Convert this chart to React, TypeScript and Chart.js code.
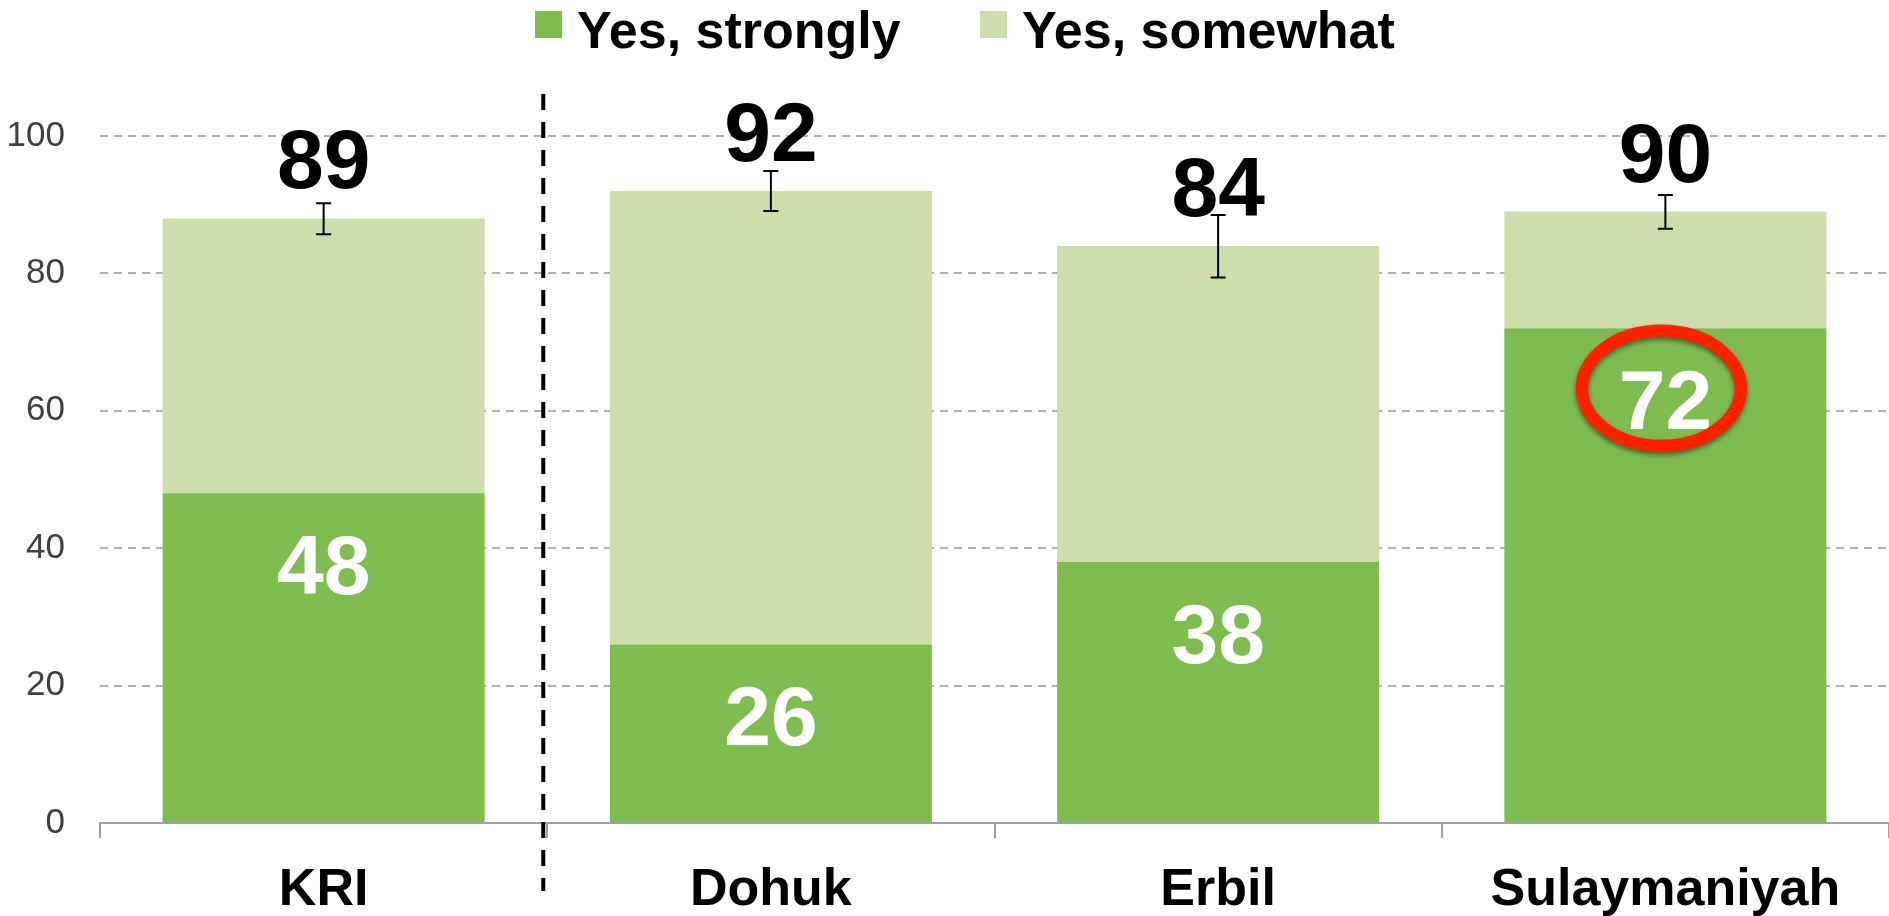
import React, { useEffect, useRef } from "react";
import { Chart, registerables } from "chart.js";

Chart.register(...registerables);

const categories = ["KRI", "Dohuk", "Erbil", "Sulaymaniyah"];
const strongly = [48, 26, 38, 72];
const somewhat = [40, 66, 46, 17];
const totalLabels = ["89", "92", "84", "90"];
const errLow = [85.7, 89.1, 79.4, 86.5];
const errHigh = [90.2, 94.9, 88.5, 91.4];
const legendLabels = ["Yes, strongly", "Yes, somewhat"];
const highlightIndex = 3;

const DARK = "#7FBC50";
const LIGHT = "#CDDDAC";
const FONT = "'Liberation Sans', Arial, Helvetica, sans-serif";

const overlayPlugin = {
  id: "overlay",
  afterDraw(chart: any) {
    const { ctx, chartArea } = chart;
    const xs = chart.scales.x;
    const ys = chart.scales.y;
    ctx.save();

    // divider between KRI and governorates
    const divX = (xs.getPixelForValue(0) + xs.getPixelForValue(1)) / 2 - 4;
    ctx.strokeStyle = "#000";
    ctx.lineWidth = 4;
    ctx.setLineDash([16, 12]);
    ctx.beginPath();
    ctx.moveTo(divX, chartArea.top - 42);
    ctx.lineTo(divX, chartArea.bottom + 68);
    ctx.stroke();
    ctx.setLineDash([]);

    categories.forEach((_, i) => {
      const cx = xs.getPixelForValue(i);
      // error bars
      const yh = ys.getPixelForValue(errHigh[i]);
      const yl = ys.getPixelForValue(errLow[i]);
      ctx.strokeStyle = "#000";
      ctx.lineWidth = 2;
      ctx.beginPath();
      ctx.moveTo(cx, yh);
      ctx.lineTo(cx, yl);
      ctx.moveTo(cx - 7.5, yh);
      ctx.lineTo(cx + 7.5, yh);
      ctx.moveTo(cx - 7.5, yl);
      ctx.lineTo(cx + 7.5, yl);
      ctx.stroke();

      // total labels
      const total = strongly[i] + somewhat[i];
      ctx.font = `bold 84px ${FONT}`;
      ctx.textAlign = "center";
      ctx.textBaseline = "alphabetic";
      ctx.fillStyle = "#000";
      ctx.fillText(totalLabels[i], cx, ys.getPixelForValue(total) - 30);

      // inner labels
      ctx.fillStyle = "#fff";
      ctx.fillText(String(strongly[i]), cx, ys.getPixelForValue(strongly[i]) + 101);
    });

    // highlight ellipse
    const hx = xs.getPixelForValue(highlightIndex) - 4;
    const hy = ys.getPixelForValue(strongly[highlightIndex]) + 60;
    ctx.save();
    ctx.shadowColor = "rgba(0,0,0,0.45)";
    ctx.shadowBlur = 5;
    ctx.shadowOffsetY = 3;
    ctx.strokeStyle = "#FF2200";
    ctx.lineWidth = 12.5;
    ctx.beginPath();
    ctx.ellipse(hx, hy, 79.5, 57.5, 0, 0, Math.PI * 2);
    ctx.stroke();
    ctx.restore();

    // legend
    ctx.font = `bold 52px ${FONT}`;
    ctx.textAlign = "left";
    ctx.textBaseline = "alphabetic";
    const box = 27;
    const gap = 15;
    const colors = [DARK, LIGHT];
    const starts = [535, 980];
    legendLabels.forEach((t, i) => {
      const lx = starts[i];
      ctx.fillStyle = colors[i];
      ctx.fillRect(lx, 11, box, box);
      ctx.fillStyle = "#000";
      ctx.fillText(t, lx + box + gap, 48);
    });

    ctx.restore();
  },
};

export default function App() {
  const ref = useRef<HTMLCanvasElement | null>(null);
  useEffect(() => {
    if (!ref.current) return;
    const chart = new Chart(ref.current, {
      type: "bar",
      data: {
        labels: categories,
        datasets: [
          {
            label: legendLabels[0],
            data: strongly,
            backgroundColor: DARK,
            borderWidth: 0,
            barPercentage: 0.72,
            categoryPercentage: 1,
          },
          {
            label: legendLabels[1],
            data: somewhat,
            backgroundColor: LIGHT,
            borderWidth: 0,
            barPercentage: 0.72,
            categoryPercentage: 1,
          },
        ],
      },
      options: {
        responsive: false,
        animation: false,
        layout: { padding: { top: 136, left: 0, right: 0, bottom: 0 } },
        plugins: {
          legend: { display: false },
          tooltip: { enabled: false },
        },
        scales: {
          x: {
            stacked: true,
            afterFit: (s: any) => {
              s.height = 93;
            },
            grid: {
              offset: true,
              drawOnChartArea: false,
              drawTicks: true,
              tickLength: 15,
              color: "#A0A0A0",
              lineWidth: 2,
            },
            border: { display: true, color: "#A0A0A0", width: 2 },
            ticks: {
              color: "#000",
              padding: 21,
              font: { family: FONT, size: 52, weight: "bold" },
            },
          },
          y: {
            stacked: true,
            min: 0,
            max: 100,
            afterFit: (s: any) => {
              s.width = 100;
            },
            grid: {
              drawTicks: false,
              color: (c: any) => (c.tick && c.tick.value === 0 ? "rgba(0,0,0,0)" : "#B0B0B0"),
              lineWidth: 2,
            },
            border: { display: false, dash: [8, 6] },
            ticks: {
              stepSize: 20,
              padding: 35,
              color: "#404040",
              font: { family: FONT, size: 35 },
            },
          },
        },
      },
      plugins: [overlayPlugin],
    } as any);
    return () => chart.destroy();
  }, []);
  return (
    <div style={{ position: "fixed", left: 0, top: 0, width: 1889, height: 916, background: "#fff" }}>
      <canvas ref={ref} width={1889} height={916} style={{ display: "block" }} />
    </div>
  );
}
